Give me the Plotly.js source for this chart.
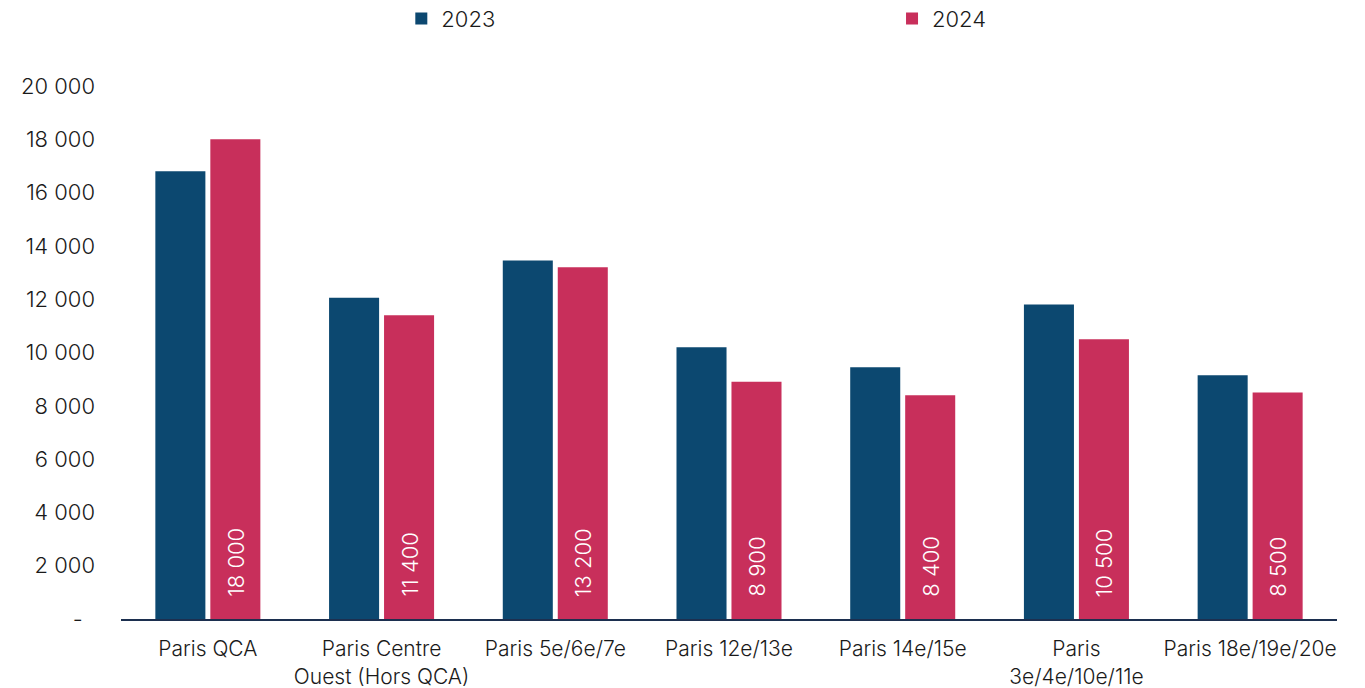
<!DOCTYPE html>
<html><head><meta charset="utf-8">
<script src="https://cdn.plot.ly/plotly-3.0.1.min.js"></script>
<style>html,body{margin:0;padding:0;background:#fff}#chart{width:1365px;height:688px}</style>
</head><body><div id="chart"></div>
<script>
const categories = ["Paris QCA","Paris Centre<br>Ouest (Hors QCA)","Paris 5e/6e/7e","Paris 12e/13e","Paris 14e/15e","Paris<br>3e/4e/10e/11e","Paris 18e/19e/20e"];
const values2023 = [16800, 12050, 13450, 10200, 9450, 11800, 9150];
const values2024 = [18000, 11400, 13200, 8900, 8400, 10500, 8500];
const labels2024 = ["18 000","11 400","13 200","8 900","8 400","10 500","8 500"];
const tickVals = [0,2000,4000,6000,8000,10000,12000,14000,16000,18000,20000];
const tickText = ["-\u00a0\u00a0","2 000","4 000","6 000","8 000","10 000","12 000","14 000","16 000","18 000","20 000"];
const FONT = "Inter, 'Liberation Sans', Arial, sans-serif";
const traces = [
  {type:"bar", name:"2023", x:categories, y:values2023, marker:{color:"#0c4870"}, hoverinfo:"y", legend:"legend"},
  {type:"bar", name:"2024", x:categories, y:values2024, marker:{color:"#c82f5b"}, hoverinfo:"y", legend:"legend2"}
];
const annotations = categories.map((c, i) => ({
  x:c, y:0, xref:"x", yref:"y", text:labels2024[i], showarrow:false,
  textangle:-90, xanchor:"center", yanchor:"bottom", xshift:27.5, yshift:20,
  font:{color:"#ffffff", size:22, family:FONT, weight:300}
}));
const legendStyle = {orientation:"h", xref:"container", yref:"container", yanchor:"middle", xanchor:"left",
  font:{size:22, family:FONT, weight:300, color:"#1a1a1a"}, bgcolor:"rgba(0,0,0,0)", itemwidth:30};
const layout = {
  width:1365, height:688,
  margin:{l:121, r:28, t:86, b:69},
  paper_bgcolor:"#fff", plot_bgcolor:"#fff",
  font:{family:FONT, size:22, color:"#1a1a1a", weight:300},
  barmode:"group", bargap:0.367, bargroupgap:0.09,
  showlegend:true,
  legend:Object.assign({}, legendStyle, {x:0.294, y:0.973}),
  legend2:Object.assign({}, legendStyle, {x:0.6535, y:0.973}),
  annotations:annotations,
  xaxis:{showline:true, linecolor:"#1c2f4f", linewidth:2, ticks:"", showgrid:false,
    ticklabelstandoff:10, tickfont:{size:21, family:FONT, weight:300}},
  yaxis:{range:[0,20000], tickvals:tickVals, ticktext:tickText, showgrid:false, zeroline:false,
    showline:false, ticks:"", ticklabelstandoff:25, tickfont:{size:22, family:FONT, weight:300}}
};
Plotly.newPlot("chart", traces, layout, {displayModeBar:false, staticPlot:true});
</script></body></html>
